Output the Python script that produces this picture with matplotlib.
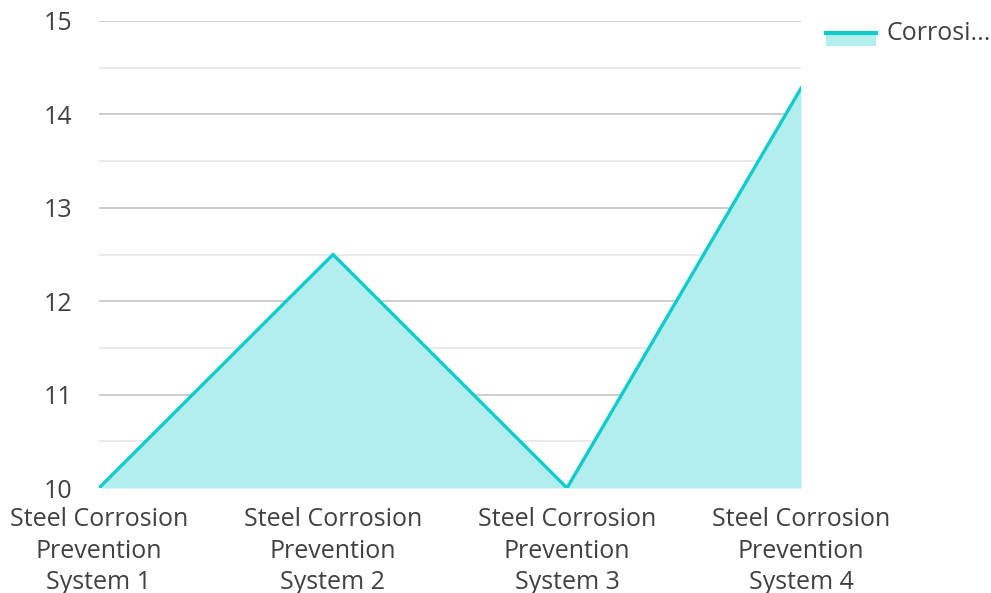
import numpy as np
import matplotlib
matplotlib.use('Agg')
import matplotlib.pyplot as plt
import matplotlib.patches as mpatches
import matplotlib.lines as mlines

categories = ['Steel Corrosion\nPrevention\nSystem 1', 'Steel Corrosion\nPrevention\nSystem 2',
              'Steel Corrosion\nPrevention\nSystem 3', 'Steel Corrosion\nPrevention\nSystem 4']
values = [10, 12.5, 10, 14.28]
yticks = [10, 11, 12, 13, 14, 15]
legend_label = 'Corrosi...'

line_col = '#0fcccc'
fill_col = '#b2eeee'
text_col = '#404040'

plt.rcParams['font.family'] = ['Open Sans', 'DejaVu Sans']

fig = plt.figure(figsize=(9.91, 5.93), dpi=100)
ax = fig.add_axes([99/991, 1-488/593, (801-99)/991, (488-21)/593])

x = np.arange(len(categories))
ax.fill_between(x, 10, values, color=fill_col, lw=0, zorder=2)
ax.plot(x, values, color=line_col, lw=2.4, zorder=3, solid_joinstyle='miter')

ax.set_xlim(0, len(categories)-1)
ax.set_ylim(10, 15)
ax.set_yticks(yticks)
ax.set_yticks(np.arange(10.5, 15, 1), minor=True)
ax.set_xticks(x)
ax.set_xticklabels(categories, linespacing=1.33)
ax.grid(axis='y', which='major', color='#c4c4c4', lw=1.2, zorder=1)
ax.grid(axis='y', which='minor', color='#e6e6e6', lw=1.2, zorder=1)
ax.tick_params(axis='y', which='both', length=0, pad=19, labelsize=18, labelcolor=text_col)
ax.tick_params(axis='x', length=0, pad=14, labelsize=18, labelcolor=text_col)
for s in ax.spines.values():
    s.set_visible(False)

# legend drawn by hand
fig.patches.append(mpatches.Rectangle((826/991, 1-46/593), 50/991, 12/593,
                                      transform=fig.transFigure, color=fill_col, lw=0))
fig.lines.append(mlines.Line2D([826/991, 876/991], [1-33/593, 1-33/593],
                               transform=fig.transFigure, color=line_col, lw=3))
fig.text(886/991, 1-34/593, legend_label, fontsize=18, color=text_col, va='center', ha='left')

fig.savefig('out.png', dpi=100)
